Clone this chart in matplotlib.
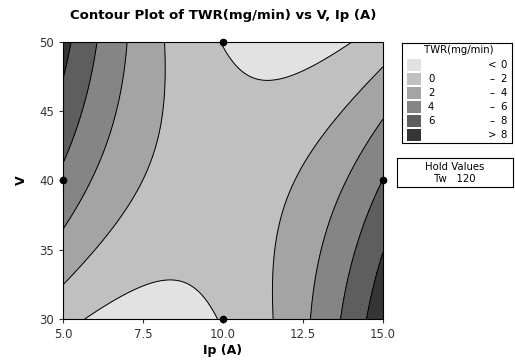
import numpy as np
import matplotlib.pyplot as plt
from matplotlib.patches import Rectangle

# fitted quadratic response surface (coded units: x=(Ip-10)/5, y=(V-40)/10)
coef_names = ['b0', 'Ip', 'V', 'Ip*Ip', 'V*V', 'Ip*V']
coef_vals = [0.9, 0.26, -0.105, 4.88, -0.86, -4.125]

levels = [0, 2, 4, 6, 8]
level_colors = ['#e2e2e2', '#c0c0c0', '#a4a4a4', '#858585', '#5e5e5e', '#353535']
legend_left = ['', '0', '2', '4', '6', '']
legend_mid = ['<', '\u2013', '\u2013', '\u2013', '\u2013', '>']
legend_right = ['0', '2', '4', '6', '8', '8']

design_ip = [10, 10, 5, 15]
design_v = [50, 30, 40, 40]

x_ticks = [5.0, 7.5, 10.0, 12.5, 15.0]
y_ticks = [30, 35, 40, 45, 50]

ip = np.linspace(5, 15, 301)
v = np.linspace(30, 50, 301)
IP, V = np.meshgrid(ip, v)
xc = (IP - 10) / 5
yc = (V - 40) / 10
b = dict(zip(coef_names, coef_vals))
Z = (b['b0'] + b['Ip'] * xc + b['V'] * yc + b['Ip*Ip'] * xc ** 2
     + b['V*V'] * yc ** 2 + b['Ip*V'] * xc * yc)

fig = plt.figure(figsize=(5.15, 3.6), dpi=100)
ax = fig.add_axes([0.1223, 0.1139, 0.6214, 0.7703])
bounds = [-100] + levels + [100]
ax.contourf(IP, V, Z, levels=bounds, colors=level_colors)
ax.contour(IP, V, Z, levels=levels, colors='black', linewidths=0.7)
ax.plot(design_ip, design_v, 'o', color='black', markersize=4.5, clip_on=False, zorder=5)

ax.set_xlim(5, 15)
ax.set_ylim(30, 50)
ax.set_xticks(x_ticks)
ax.set_xticklabels([f'{t:.1f}' for t in x_ticks])
ax.set_yticks(y_ticks)
ax.tick_params(labelsize=8.5, length=3, colors='#333333')
ax.set_xlabel('Ip (A)', fontsize=9, fontweight='bold', labelpad=2)
ax.set_ylabel('V', fontsize=9, fontweight='bold', labelpad=8)
ax.set_title('Contour Plot of TWR(mg/min) vs V, Ip (A)', fontsize=9.5,
             fontweight='bold', pad=16)

# legend box
lax = fig.add_axes([402 / 515, 1 - 143 / 360, 110 / 515, 100 / 360])
lax.set_xlim(0, 110)
lax.set_ylim(100, 0)
lax.set_xticks([])
lax.set_yticks([])
for s in lax.spines.values():
    s.set_linewidth(0.8)
lax.text(57, 7, 'TWR(mg/min)', ha='center', va='center', fontsize=7.3)
for i, c in enumerate(level_colors):
    yy = 22 + i * 14
    lax.add_patch(Rectangle((5, yy - 6), 14, 12, facecolor=c, edgecolor='none'))
    lax.text(26, yy, legend_left[i], ha='left', va='center', fontsize=7.3)
    lax.text(90, yy, legend_mid[i], ha='center', va='center', fontsize=7.3)
    lax.text(105, yy, legend_right[i], ha='right', va='center', fontsize=7.3)

# hold values box
hax = fig.add_axes([397 / 515, 1 - 187 / 360, 116 / 515, 29 / 360])
hax.set_xticks([])
hax.set_yticks([])
for s in hax.spines.values():
    s.set_linewidth(0.8)
hax.text(0.5, 0.68, 'Hold Values', ha='center', va='center', fontsize=7.3,
         transform=hax.transAxes)
hax.text(0.5, 0.28, 'Tw   120', ha='center', va='center', fontsize=7.3,
         transform=hax.transAxes)

fig.savefig('out.png', dpi=100)
